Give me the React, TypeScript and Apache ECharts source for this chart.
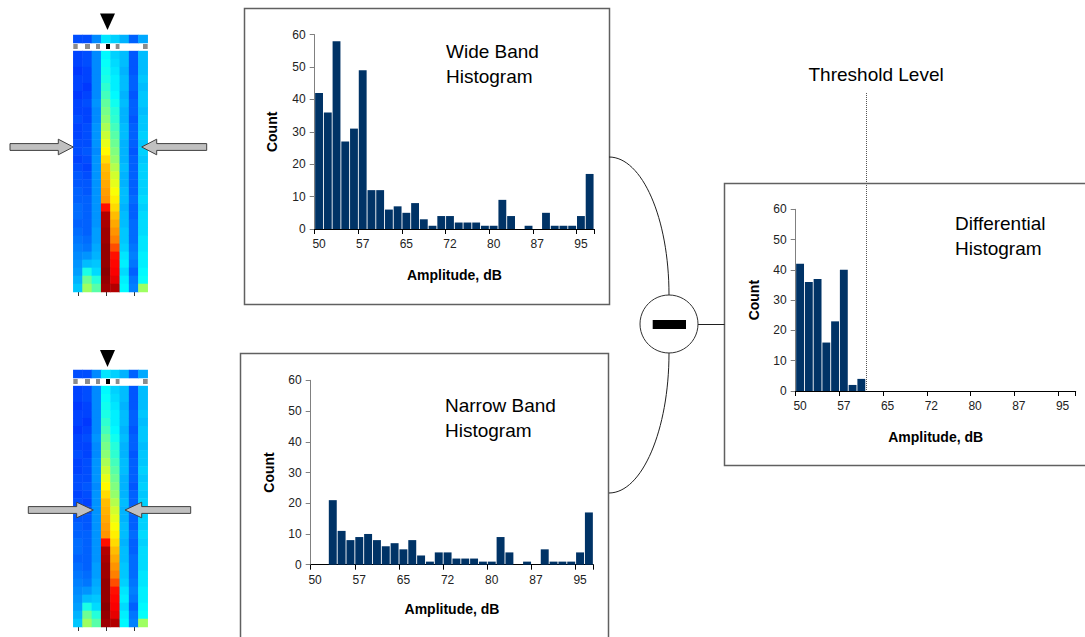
import React, { useEffect, useRef } from "react";
import * as echarts from "echarts";

// ---------- data ----------
const binStarts = [50, 51.5, 53, 54.5, 56, 57.5, 59, 60.5, 62, 63.5, 65, 66.5, 68, 69.5, 71, 72.5, 74, 75.5, 77, 78.5, 80, 81.5, 83, 84.5, 86, 87.5, 89, 90.5, 92, 93.5, 95, 96.5];
const wideBandCounts = [42, 36, 58, 27, 31, 49, 12, 12, 6, 7, 5, 8, 3, 1, 4, 4, 2, 2, 2, 1, 1, 9, 4, 0, 1, 0, 5, 1, 1, 1, 4, 17];
const narrowBandCounts = [0, 0, 21, 11, 8, 9, 10, 8, 6, 7, 5, 8, 3, 1, 4, 4, 2, 2, 2, 1, 1, 9, 4, 0, 1, 0, 5, 1, 1, 1, 4, 17];
const differentialCounts = [42, 36, 37, 16, 23, 40, 2, 4, 0, 0, 0, 0, 0, 0, 0, 0, 0, 0, 0, 0, 0, 0, 0, 0, 0, 0, 0, 0, 0, 0, 0, 0];
const countMin = 0;
const countMax = 60;
const countStep = 10;
const thresholdBin = 8; // threshold sits at the boundary after this many bins

// heat map image columns (first value = top strip, then 30 rows top->bottom)
const heatColumnNames = ["C1", "C2", "C3", "C4", "C5", "C6", "C7", "C8"];
const heatCol1 = [20, 19, 19, 18, 19, 19, 18, 19, 19, 20, 19, 19, 20, 20, 19, 20, 21, 21, 22, 22, 23, 23, 22, 23, 24, 25, 26, 27, 28, 30, 32];
const heatCol2 = [20, 20, 20, 19, 19, 18, 19, 20, 19, 19, 20, 20, 20, 21, 20, 19, 20, 21, 21, 22, 22, 22, 22, 22, 23, 24, 27, 31, 40, 48, 53];
const heatCol3 = [26, 26, 26, 26, 26, 26, 26, 27, 26, 26, 27, 27, 27, 26, 27, 27, 27, 27, 27, 27, 27, 27, 27, 28, 28, 29, 30, 32, 34, 41, 46];
const heatCol4 = [35, 37, 38, 39, 40, 42, 44, 47, 49, 51, 54, 57, 60, 63, 66, 69, 70, 71, 72, 73, 86, 95, 96, 97, 97, 98, 98, 98, 99, 98, 97];
const heatCol5 = [33, 33, 34, 35, 36, 36, 37, 39, 41, 42, 44, 46, 48, 50, 52, 55, 58, 60, 62, 64, 66, 69, 71, 73, 75, 80, 86, 87, 88, 90, 95];
const heatCol6 = [30, 31, 31, 30, 31, 31, 30, 31, 30, 30, 31, 31, 30, 30, 30, 31, 30, 30, 31, 31, 30, 31, 31, 32, 32, 33, 35, 36, 34, 36, 37];
const heatCol7 = [22, 21, 21, 21, 22, 22, 21, 22, 22, 21, 22, 22, 22, 21, 22, 22, 22, 22, 22, 23, 22, 22, 23, 23, 23, 24, 25, 24, 22, 24, 25];
const heatCol8 = [29, 31, 31, 31, 32, 31, 32, 32, 31, 32, 32, 33, 32, 33, 32, 33, 33, 33, 33, 34, 33, 34, 34, 34, 35, 35, 36, 36, 37, 38, 53];
const heatColumns = [heatCol1, heatCol2, heatCol3, heatCol4, heatCol5, heatCol6, heatCol7, heatCol8];
const heatRowNames = ["strip", "markers"].concat(Array.from({ length: 30 }, (_, i) => "r" + (i + 1)));

const jetColors = ["#000080", "#0000ff", "#0080ff", "#00ffff", "#80ff80", "#ffff00", "#ff8000", "#ff0000", "#800000"];

const FONT = 'Arial, "Liberation Sans", Helvetica, sans-serif';
const BAR_COLOR = "#003366";
const BOX_COLOR = "#606060";

// ---------- helpers ----------
const binLabels = binStarts.map((b) => String(b));

function histXAxis(gridIndex: number, nameGap: number) {
  return {
    type: "category",
    gridIndex,
    data: binLabels,
    boundaryGap: true,
    axisLine: { show: true, lineStyle: { color: "#000", width: 1 } },
    axisTick: { show: true, interval: 4, length: 5, lineStyle: { color: "#000" } },
    axisLabel: {
      interval: 4,
      formatter: (v: string) => String(Math.floor(parseFloat(v))),
      fontSize: 12,
      color: "#222",
      fontFamily: FONT,
      margin: 9,
    },
    splitLine: { show: false },
    name: "Amplitude, dB",
    nameLocation: "middle",
    nameGap,
    nameTextStyle: { fontSize: 14, fontWeight: "bold", color: "#000", fontFamily: FONT },
  };
}

function histYAxis(gridIndex: number, nameGap: number) {
  return {
    type: "value",
    gridIndex,
    min: countMin,
    max: countMax,
    interval: countStep,
    axisLine: { show: true, lineStyle: { color: "#808080", width: 1 } },
    axisTick: { show: true, length: 5, lineStyle: { color: "#808080" } },
    axisLabel: { fontSize: 12, color: "#222", margin: 9, fontFamily: FONT },
    splitLine: { show: false },
    name: "Count",
    nameLocation: "middle",
    nameRotate: 90,
    nameGap,
    nameTextStyle: { fontSize: 14, fontWeight: "bold", color: "#000", fontFamily: FONT },
  };
}

function histSeries(idx: number, data: number[]) {
  return {
    type: "bar",
    xAxisIndex: idx,
    yAxisIndex: idx,
    data,
    barCategoryGap: "10%",
    itemStyle: { color: BAR_COLOR },
    emphasis: { disabled: true },
    silent: true,
  };
}

function heatData() {
  const out: number[][] = [];
  heatColumns.forEach((col, c) => {
    col.forEach((v, k) => {
      out.push([c, k === 0 ? 0 : k + 1, v]);
    });
  });
  return out;
}

function heatXAxis(gridIndex: number) {
  return {
    type: "category",
    gridIndex,
    data: heatColumnNames,
    axisLine: { show: false },
    axisTick: { show: true, alignWithLabel: true, length: 4, lineStyle: { color: "#333" } },
    axisLabel: { show: false },
    splitLine: { show: false },
  };
}

function heatYAxis(gridIndex: number) {
  return {
    type: "category",
    gridIndex,
    data: heatRowNames,
    inverse: true,
    show: false,
  };
}

function heatSeries(idx: number) {
  return {
    type: "heatmap",
    xAxisIndex: idx,
    yAxisIndex: idx,
    data: heatData(),
    itemStyle: { borderWidth: 0 },
    emphasis: { disabled: true },
    silent: true,
  };
}

function arrow(id: string, tailX: number, tipX: number, cy: number, headLen: number) {
  const dir = tipX > tailX ? 1 : -1;
  const base = tipX - dir * headLen;
  const sh = 3.4;
  const hh = 7.8;
  return {
    id,
    type: "polygon",
    shape: {
      points: [
        [tailX, cy - sh],
        [base, cy - sh],
        [base, cy - hh],
        [tipX, cy],
        [base, cy + hh],
        [base, cy + sh],
        [tailX, cy + sh],
      ],
    },
    style: { fill: "#c0c0c0", stroke: "#404040", lineWidth: 1 },
    z: 10,
  };
}

function markerRow(id: string, x: number, y: number) {
  const sq = [
    [0, 4.4, "#8c8c8c"],
    [11.7, 5, "#8c8c8c"],
    [22.7, 4, "#8c8c8c"],
    [32.7, 4, "#000"],
    [42.4, 3.8, "#8c8c8c"],
    [69.7, 4.7, "#8c8c8c"],
  ] as [number, number, string][];
  return {
    id,
    type: "group",
    x,
    y,
    z: 10,
    children: sq.map(([sx, w, c], i) => ({
      type: "rect",
      id: id + "_" + i,
      shape: { x: sx, y: 0, width: w, height: 5 },
      style: { fill: c },
    })),
  };
}

function titleText(id: string, x: number, y: number, text: string) {
  return {
    id,
    type: "text",
    x,
    y,
    z: 10,
    style: {
      text,
      font: `19px ${FONT}`,
      fill: "#000",
      lineHeight: 25,
      verticalAlign: "top",
      align: "left",
    },
  };
}

function box(id: string, x: number, y: number, w: number, h: number) {
  return {
    id,
    type: "rect",
    shape: { x, y, width: w, height: h },
    style: { fill: "none", stroke: BOX_COLOR, lineWidth: 1.5 },
    z: 1,
  };
}

export default function App() {
  const ref = useRef<HTMLDivElement | null>(null);

  useEffect(() => {
    if (!ref.current) return;
    const chart = echarts.init(ref.current, undefined, { renderer: "svg" });

    const option: any = {
      animation: false,
      backgroundColor: "#fff",
      textStyle: { fontFamily: FONT },
      grid: [
        { left: 314.7, top: 34.7, width: 279.3, height: 194.3, containLabel: false },
        { left: 310.7, top: 380.3, width: 282.6, height: 184.4, containLabel: false },
        { left: 795.7, top: 209.3, width: 280, height: 181.7, containLabel: false },
        { left: 73.3, top: 35, width: 74.4, height: 257, containLabel: false },
        { left: 73.3, top: 370, width: 74.4, height: 257, containLabel: false },
      ],
      xAxis: [histXAxis(0, 39), histXAxis(1, 37), histXAxis(2, 39), heatXAxis(3), heatXAxis(4)],
      yAxis: [histYAxis(0, 36), histYAxis(1, 35), histYAxis(2, 35), heatYAxis(3), heatYAxis(4)],
      visualMap: {
        type: "continuous",
        show: false,
        min: 0,
        max: 100,
        seriesIndex: [3, 4],
        inRange: { color: jetColors },
      },
      series: [
        histSeries(0, wideBandCounts),
        histSeries(1, narrowBandCounts),
        histSeries(2, differentialCounts),
        heatSeries(3),
        heatSeries(4),
      ],
      graphic: [
        box("boxWide", 244.5, 8.5, 365, 296),
        box("boxNarrow", 240.5, 353.5, 368, 300),
        box("boxDiff", 724.5, 183.5, 380, 282),
        titleText("tWide", 446, 38.5, "Wide Band\nHistogram"),
        titleText("tNarrow", 445, 392.5, "Narrow Band\nHistogram"),
        titleText("tDiff", 955, 210.5, "Differential\nHistogram"),
        // connectors
        {
          id: "curveTop",
          type: "bezierCurve",
          shape: { x1: 609, y1: 157, cpx1: 642, cpy1: 157, cpx2: 669, cpy2: 218, x2: 669, y2: 295 },
          style: { stroke: "#202020", lineWidth: 1, fill: "none" },
          z: 5,
        },
        {
          id: "curveBottom",
          type: "bezierCurve",
          shape: { x1: 669, y1: 353, cpx1: 669, cpy1: 430, cpx2: 642, cpy2: 493, x2: 609, y2: 493 },
          style: { stroke: "#202020", lineWidth: 1, fill: "none" },
          z: 5,
        },
        {
          id: "lineToDiff",
          type: "line",
          shape: { x1: 698, y1: 324.5, x2: 724.5, y2: 324.5 },
          style: { stroke: "#202020", lineWidth: 1 },
          z: 5,
        },
        {
          id: "minusCircle",
          type: "circle",
          shape: { cx: 669, cy: 324, r: 29 },
          style: { fill: "#fff", stroke: "#303030", lineWidth: 1 },
          z: 6,
        },
        {
          id: "minusBar",
          type: "rect",
          shape: { x: 652.7, y: 320, width: 33.3, height: 9 },
          style: { fill: "#000" },
          z: 7,
        },
        // heat map decorations
        {
          id: "triTop",
          type: "polygon",
          shape: { points: [[100, 13.5], [115, 13.5], [107.5, 30]] },
          style: { fill: "#000" },
          z: 10,
        },
        {
          id: "triBottom",
          type: "polygon",
          shape: { points: [[100, 350], [115, 350], [107.5, 367]] },
          style: { fill: "#000" },
          z: 10,
        },
        markerRow("marksTop", 73.3, 44),
        markerRow("marksBottom", 73.3, 379),
        arrow("arTL", 10, 73.3, 147, 15),
        arrow("arTR", 206.7, 141.7, 147, 15),
        arrow("arBL", 28.3, 93.3, 510, 16.6),
        arrow("arBR", 190.7, 125, 510, 16.7),
      ],
    };

    chart.setOption(option);

    // threshold line at the bin boundary of the differential histogram
    const cA = chart.convertToPixel({ xAxisIndex: 2 }, binLabels[thresholdBin - 1]) as number;
    const cB = chart.convertToPixel({ xAxisIndex: 2 }, binLabels[thresholdBin]) as number;
    const y0 = chart.convertToPixel({ yAxisIndex: 2 }, 0) as number;
    const tx = Math.round((cA + cB) / 2) + 0.5;
    chart.setOption({
      graphic: [
        {
          id: "thrLine",
          type: "line",
          shape: { x1: tx, y1: 93, x2: tx, y2: y0 },
          style: { stroke: "#555", lineWidth: 1, lineDash: [1, 1] },
          z: 10,
        },
        {
          id: "thrText",
          type: "text",
          x: tx - 58,
          y: 74,
          z: 10,
          style: {
            text: "Threshold Level",
            font: `19px ${FONT}`,
            fill: "#000",
            verticalAlign: "middle",
            align: "left",
          },
        },
      ],
    });

    return () => {
      chart.dispose();
    };
  }, []);

  return (
    <div
      ref={ref}
      style={{ position: "absolute", left: 0, top: 0, width: 1085, height: 637, background: "#fff" }}
    />
  );
}
